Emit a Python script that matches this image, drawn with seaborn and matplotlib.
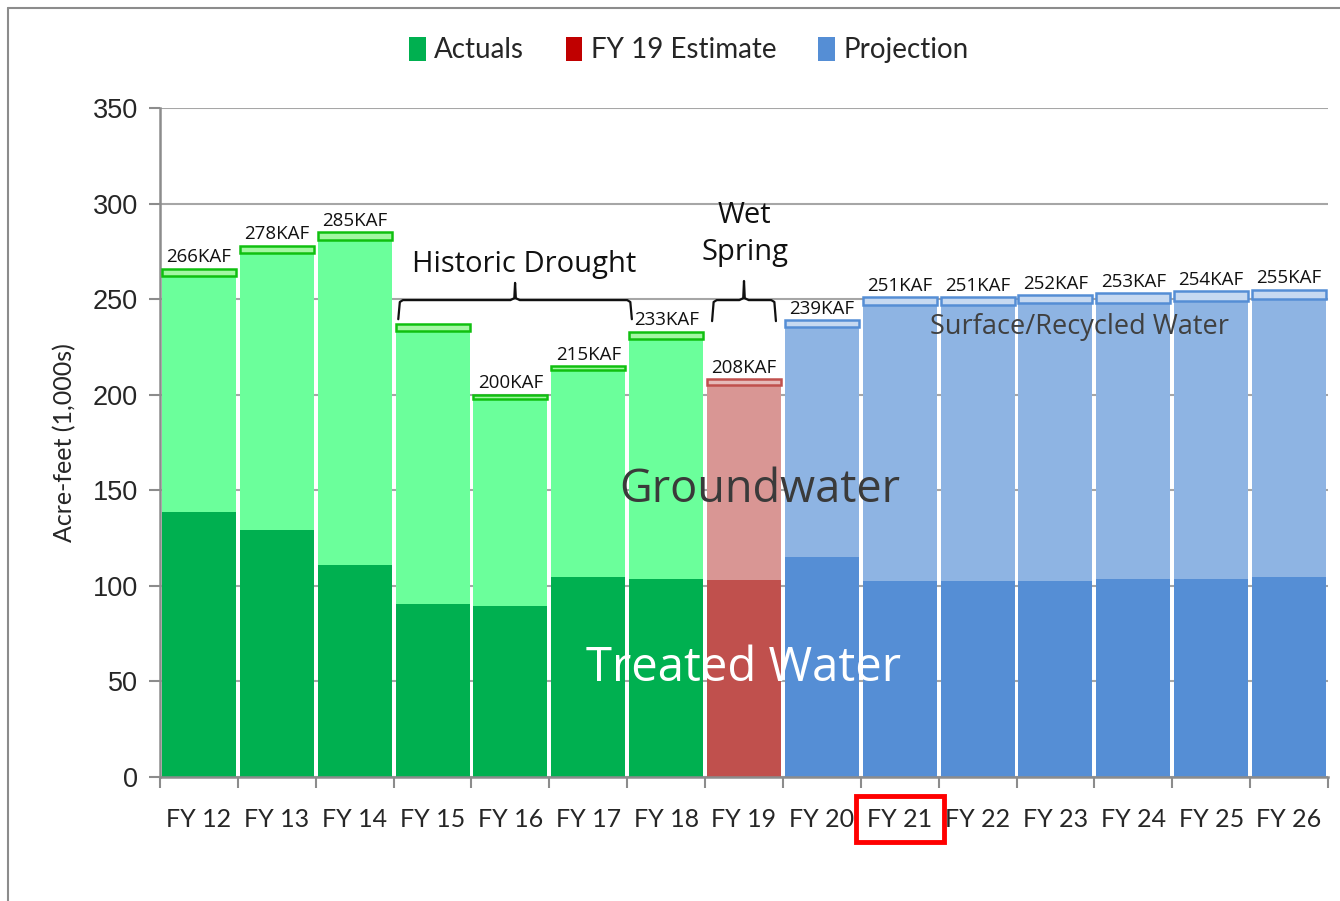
import matplotlib
matplotlib.use("Agg")
import matplotlib.pyplot as plt
from matplotlib.lines import Line2D
from matplotlib.patches import Patch
import seaborn as sns
import pandas as pd
import numpy as np

# ---------------- data ----------------
years = ["FY 12", "FY 13", "FY 14", "FY 15", "FY 16", "FY 17", "FY 18", "FY 19",
         "FY 20", "FY 21", "FY 22", "FY 23", "FY 24", "FY 25", "FY 26"]
period = ["Actuals"] * 7 + ["FY 19 Estimate"] + ["Projection"] * 7
treated = [138.5, 129, 111, 90.5, 89.5, 104.5, 103.5, 103, 115, 102.5, 102.5, 102.5, 103.5, 103.5, 104.5]
totals = [266, 278, 285, 237, 200, 215, 233, 208, 239, 251, 251, 252, 253, 254, 255]
surface = [4, 4, 4, 3.5, 2.5, 2.3, 3.8, 3, 3.8, 4, 4, 4, 5, 5, 4.7]
total_labels = ["266KAF", "278KAF", "285KAF", "", "200KAF", "215KAF", "233KAF", "208KAF",
                "239KAF", "251KAF", "251KAF", "252KAF", "253KAF", "254KAF", "255KAF"]
yticks = [0, 50, 100, 150, 200, 250, 300, 350]

df = pd.DataFrame({"year": years, "period": period, "treated": treated,
                   "total": totals, "surface": surface})
df["below_surface"] = df["total"] - df["surface"]   # treated + groundwater

dark = {"Actuals": "#00b050", "FY 19 Estimate": "#c0504d", "Projection": "#558ed5"}
light = {"Actuals": "#6bff9b", "FY 19 Estimate": "#d99694", "Projection": "#8eb4e3"}
box_face = {"Actuals": "#a3f7a3", "FY 19 Estimate": "#e6b9b8", "Projection": "#c6d9f1"}
box_edge = {"Actuals": "#10c010", "FY 19 Estimate": "#c0504d", "Projection": "#558ed5"}
legend_col = {"Actuals": "#00b050", "FY 19 Estimate": "#c00000", "Projection": "#558ed5"}

body = ["Open Sans", "DejaVu Sans"]
narrow = ["Lato", "DejaVu Sans"]

sns.set_theme(style="white")
plt.rcParams["font.family"] = narrow

fig = plt.figure(figsize=(13.4, 9.01), dpi=100)
ax = fig.add_axes([160 / 1340, 1 - 777 / 901, (1328 - 160) / 1340, (777 - 108) / 901])

W = 0.95
pal_dark = {y: dark[p] for y, p in zip(years, period)}
pal_light = {y: light[p] for y, p in zip(years, period)}
pal_box = {y: box_face[p] for y, p in zip(years, period)}

# overdraw stacking: treated+groundwater (light), then treated (dark)
sns.barplot(data=df, x="year", y="below_surface", hue="year", palette=pal_light, legend=False,
            width=W, ax=ax, linewidth=0, saturation=1, order=years, hue_order=years)
sns.barplot(data=df, x="year", y="treated", hue="year", palette=pal_dark, legend=False,
            width=W, ax=ax, linewidth=0, saturation=1, order=years, hue_order=years)
n_before = len(ax.patches)
# surface/recycled segment drawn as a boxed cap
sns.barplot(data=df, x="year", y="surface", hue="year", palette=pal_box, legend=False,
            width=W, ax=ax, saturation=1, order=years, hue_order=years)
caps = [p for p in ax.patches[n_before:] if p.get_height() > 0]
caps.sort(key=lambda p: p.get_x())
for patch, p, base in zip(caps, period, df["below_surface"]):
    patch.set_y(base)
    patch.set_edgecolor(box_edge[p])
    patch.set_linewidth(1.8)
    patch.set_zorder(4)

# total labels
for i, (t, lab) in enumerate(zip(totals, total_labels)):
    if lab:
        ax.text(i, t + 1.2, lab, ha="center", va="bottom", fontsize=13.5,
                family=body, color="#111111")

# axes styling
ax.set_xlim(-0.5, 14.5)
ax.set_ylim(0, 350)
ax.set_yticks(yticks)
ax.set_yticklabels([str(v) for v in yticks], fontsize=19.5, family=["Liberation Sans", "DejaVu Sans"])
ax.set_axisbelow(True)
ax.grid(axis="y", color="#a6a6a6", linewidth=1.5)
ax.grid(axis="x", visible=False)
for s in ["top", "right"]:
    ax.spines[s].set_visible(False)
for s in ["left", "bottom"]:
    ax.spines[s].set_color("#8c8c8c")
    ax.spines[s].set_linewidth(1.8)
ax.tick_params(axis="y", which="major", length=8, width=1.5, color="#8c8c8c", direction="out", pad=8, left=True)
ax.set_xticks(np.arange(15))
ax.set_xticklabels(years)
ax.set_xticks(np.arange(-0.5, 15, 1), minor=True)
ax.tick_params(axis="x", which="major", length=0, pad=22, labelsize=18)
ax.tick_params(axis="x", which="minor", length=8, width=1.5, color="#8c8c8c", direction="out", bottom=True)
ax.set_xlabel("")
ax.set_ylabel("Acre-feet (1,000s)", fontsize=18, labelpad=12)

for lbl in ax.get_xticklabels():
    if lbl.get_text() == "FY 21":
        lbl.set_bbox(dict(facecolor="none", edgecolor="#ff0000", linewidth=3.5,
                          boxstyle="square,pad=0.45"))

# annotations
ax.text(4.17, 268, "Historic Drought", ha="center", va="center", fontsize=21,
        family=body, color="#111111")
ax.text(7.01, 284, "Wet\nSpring", ha="center", va="center", fontsize=21,
        family=body, color="#111111", linespacing=1.35)


def brace(x0, x1, y, tip, drop):
    xm = (x0 + x1) / 2
    xs = [x0, x0 + 0.02, x0 + 0.06, xm - 0.06, xm - 0.01, xm, xm + 0.01, xm + 0.06,
          x1 - 0.06, x1 - 0.02, x1]
    ys = [y - drop, y - 1, y, y, y + 1, y + tip, y + 1, y, y, y - 1, y - drop]
    ax.plot(xs, ys, color="#111111", linewidth=1.6, solid_capstyle="round", zorder=5)


brace(2.56, 5.56, 249.5, 9, 10)
brace(6.59, 7.41, 249.5, 10, 11)

ax.text(7.2, 150, "Groundwater", ha="center", va="center", fontsize=32.5,
        family=body, color="#3a3a3a", zorder=6)
ax.text(7.0, 57, "Treated Water", ha="center", va="center", fontsize=34,
        family=body, color="white", zorder=6)
ax.text(11.31, 235.5, "Surface/Recycled Water", ha="center", va="center", fontsize=19.5,
        family=body, color="#404040", zorder=6)

# legend
handles = [Patch(facecolor=legend_col[k], edgecolor="none") for k in ["Actuals", "FY 19 Estimate", "Projection"]]
fig.legend(handles, ["Actuals", "FY 19 Estimate", "Projection"], loc="center",
           bbox_to_anchor=(0.514, 1 - 50 / 901), ncol=3, frameon=False,
           handlelength=0.6, handleheight=1.0, handletextpad=0.3, columnspacing=1.5,
           prop={"family": narrow, "size": 20})

# outer border
fig.add_artist(Line2D([8 / 1340, 8 / 1340], [0, 1 - 8 / 901], transform=fig.transFigure,
                      color="#8c8c8c", linewidth=1.5))
fig.add_artist(Line2D([8 / 1340, 1], [1 - 8 / 901, 1 - 8 / 901], transform=fig.transFigure,
                      color="#8c8c8c", linewidth=1.5))

fig.savefig("out.png", dpi=100, facecolor="white")
